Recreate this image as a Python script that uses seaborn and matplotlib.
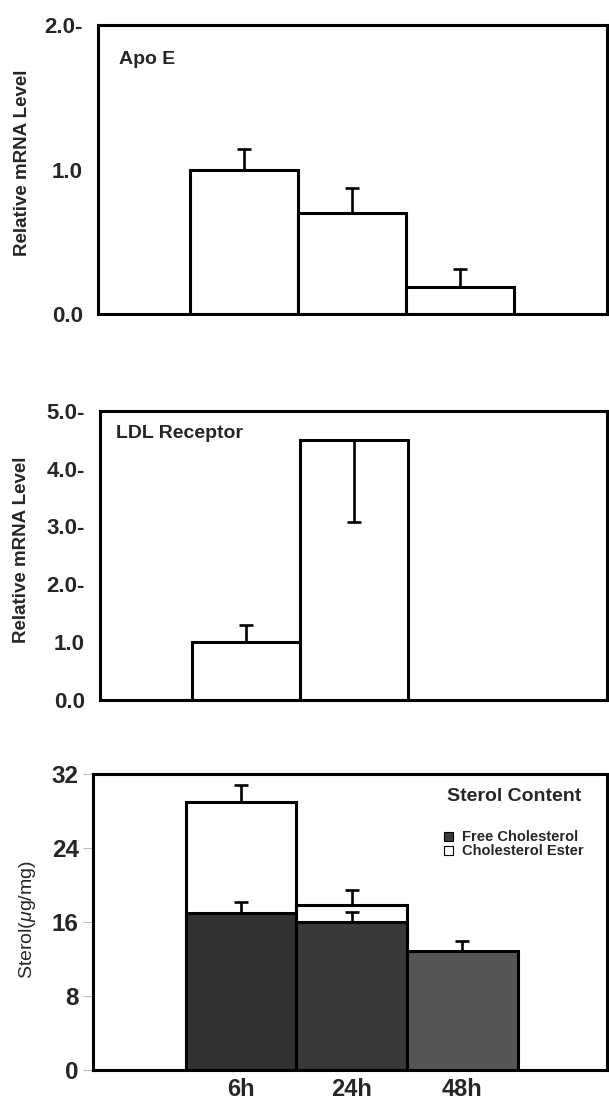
import matplotlib
matplotlib.use("Agg")
import matplotlib.pyplot as plt
from matplotlib.patches import Patch
import seaborn as sns

# ---- data ----
times = ["6h", "24h", "48h"]

apoe_values = [1.0, 0.7, 0.19]
apoe_err_up = [0.14, 0.17, 0.12]

ldl_times = ["6h", "24h"]
ldl_values = [1.0, 4.5]
ldl_err_low = [0.0, 1.43]
ldl_err_up = [0.29, 0.0]

free_chol = [17.0, 16.0, 12.9]
free_err = [1.2, 1.1, 1.1]
total_sterol = [29.0, 17.9]
total_err = [1.8, 1.6]

apoe_ticks = [0.0, 1.0, 2.0]
apoe_ticklabels = ["0.0", "1.0", "2.0-"]
ldl_ticks = [0.0, 1.0, 2.0, 3.0, 4.0, 5.0]
ldl_ticklabels = ["0.0", "1.0", "2.0-", "3.0-", "4.0-", "5.0-"]
sterol_ticks = [0, 8, 16, 24, 32]
sterol_ticklabels = ["0", "8", "16", "24", "32"]

free_colors = ["#313131", "#393939", "#555555"]

# ---- style ----
sns.set_style("white")
plt.rcParams["font.family"] = ["Liberation Sans", "DejaVu Sans"]
plt.rcParams["mathtext.fontset"] = "custom"
plt.rcParams["mathtext.it"] = "Liberation Sans:italic"
plt.rcParams["mathtext.rm"] = "Liberation Sans"

W, H = 609, 1104
fig = plt.figure(figsize=(W / 100, H / 100), dpi=100)
fig.patch.set_facecolor("white")

LW = 2.2


def px_axes(left, top, right, bottom):
    return fig.add_axes([left / W, 1 - bottom / H, (right - left) / W, (bottom - top) / H])


def style_axes(ax):
    for s in ax.spines.values():
        s.set_visible(True)
        s.set_linewidth(LW)
        s.set_color("black")
    ax.set_facecolor("white")
    ax.grid(False)


err_kw = dict(fmt="none", ecolor="black", elinewidth=1.9, capsize=5, capthick=1.9, zorder=3)

# ---- Panel 1: Apo E ----
ax1 = px_axes(98.3, 25, 606.7, 314)
sns.barplot(x=times, y=apoe_values, order=times, width=1.0, color="white",
            edgecolor="black", linewidth=LW, errorbar=None, ax=ax1, zorder=2)
ax1.errorbar(x=list(range(len(times))), y=apoe_values, yerr=[[0] * 3, apoe_err_up], **err_kw)
style_axes(ax1)
ax1.set_xlim(-1.352, 3.36)
ax1.set_ylim(0, 2.0)
ax1.set_yticks(apoe_ticks)
ax1.set_yticklabels(apoe_ticklabels, fontsize=16, fontweight="bold")
ax1.tick_params(axis="y", length=0, pad=11)
ax1.set_xticks([])
ax1.set_xlabel("")
ax1.set_ylabel("Relative mRNA Level", fontsize=13.5, fontweight="bold")
ax1.yaxis.set_label_coords(-0.132, 0.524)
ax1.text(0.041, 0.91, "Apo E", transform=ax1.transAxes, fontsize=14,
         fontweight="bold", ha="left", va="top")

# ---- Panel 2: LDL Receptor ----
ax2 = px_axes(100.2, 410.7, 607, 700)
sns.barplot(x=ldl_times, y=ldl_values, order=times, width=1.0, color="white",
            edgecolor="black", linewidth=LW, errorbar=None, ax=ax2, zorder=2)
ax2.errorbar(x=list(range(len(ldl_times))), y=ldl_values, yerr=[ldl_err_low, ldl_err_up], **err_kw)
style_axes(ax2)
ax2.set_xlim(-1.353, 3.348)
ax2.set_ylim(0, 5.0)
ax2.set_yticks(ldl_ticks)
ax2.set_yticklabels(ldl_ticklabels, fontsize=16, fontweight="bold")
ax2.tick_params(axis="y", length=0, pad=11)
ax2.set_xticks([])
ax2.set_xlabel("")
ax2.set_ylabel("Relative mRNA Level", fontsize=13.5, fontweight="bold")
ax2.yaxis.set_label_coords(-0.138, 0.518)
ax2.text(0.031, 0.95, "LDL Receptor", transform=ax2.transAxes, fontsize=14,
         fontweight="bold", ha="left", va="top")

# ---- Panel 3: Sterol content ----
ax3 = px_axes(92.7, 774.3, 607, 1070)
sns.barplot(x=times[:2], y=total_sterol, order=times, width=1.0, color="white",
            edgecolor="black", linewidth=LW, errorbar=None, ax=ax3, zorder=2)
sns.barplot(x=times, y=free_chol, order=times, hue=times, palette=free_colors,
            legend=False, width=1.0, edgecolor="black", linewidth=LW,
            errorbar=None, ax=ax3, zorder=2, saturation=1)
ax3.errorbar(x=list(range(len(total_sterol))), y=total_sterol,
             yerr=[[0] * len(total_sterol), total_err], **err_kw)
ax3.errorbar(x=list(range(len(free_chol))), y=free_chol,
             yerr=[[0] * len(free_chol), free_err], **err_kw)
style_axes(ax3)
ax3.set_xlim(-1.34, 3.306)
ax3.set_ylim(0, 32)
ax3.set_yticks(sterol_ticks)
ax3.set_yticklabels(sterol_ticklabels, fontsize=17.5, fontweight="bold")
ax3.tick_params(axis="y", left=True, length=7, width=0.8, color="#bbbbbb", pad=3)
ax3.set_xticks(range(len(times)))
ax3.set_xticklabels(times, fontsize=17, fontweight="bold")
ax3.tick_params(axis="x", length=0, pad=6)
ax3.set_xlabel("")
ax3.set_ylabel(r"Sterol($\mu$g/mg)", fontsize=14)
ax3.yaxis.set_label_coords(-0.106, 0.507)
ax3.text(0.689, 0.955, "Sterol Content", transform=ax3.transAxes, fontsize=14,
         fontweight="bold", ha="left", va="top")
handles = [Patch(facecolor="#3a3a3a", edgecolor="black", linewidth=0.8, label="Free Cholesterol"),
           Patch(facecolor="white", edgecolor="black", linewidth=0.8, label="Cholesterol Ester")]
leg = ax3.legend(handles=handles, loc="upper left", bbox_to_anchor=(0.684, 0.81),
                 frameon=False, borderpad=0, borderaxespad=0, labelspacing=0.0,
                 handlelength=0.6, handleheight=0.6, handletextpad=0.6,
                 prop={"family": "Liberation Sans", "weight": "bold", "size": 10.5})

fig.savefig("out.png", dpi=100, facecolor="white")
